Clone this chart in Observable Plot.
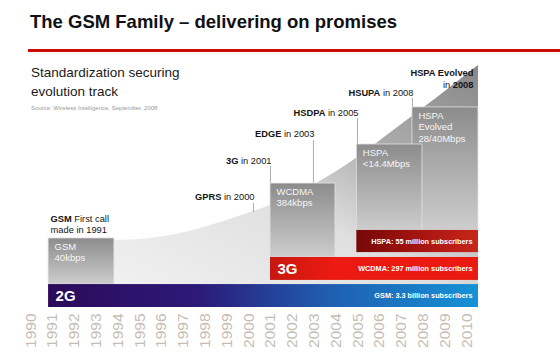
<!DOCTYPE html>
<html><head><meta charset="utf-8">
<script src="https://cdn.jsdelivr.net/npm/d3@7"></script>
<script src="https://cdn.jsdelivr.net/npm/@observablehq/plot@0.6"></script>
<style>
body{margin:0;background:#fff;font-family:"Liberation Sans",Arial,sans-serif;}
#wrap{position:relative;width:560px;height:357px;overflow:hidden;background:#fff;}
#title{position:absolute;left:30px;top:13px;font-size:18.5px;line-height:18.5px;font-weight:bold;color:#111;white-space:nowrap;}
#rule{position:absolute;left:28px;top:49px;width:532px;height:3px;background:#cc0a0a;}
#chart{position:absolute;left:0;top:56px;}
#sub{position:absolute;left:31px;top:63px;font-size:13.5px;line-height:19px;color:#1a1a1a;white-space:nowrap;}
#src{position:absolute;left:31px;top:105px;font-size:6px;line-height:6px;color:#9a9a9a;white-space:nowrap;}
</style></head>
<body>
<div id="wrap">
  <div id="title">The GSM Family – delivering on promises</div>
  <div id="rule"></div>
  <div id="chart"></div>
  <div id="sub">Standardization securing<br>evolution track</div>
  <div id="src">Source: Wireless Intelligence, September, 2008</div>
</div>
<script>
// ---- data ----
const tickYears = [1990,1991,1992,1993,1994,1995,1996,1997,1998,1999,2000,2001,2002,2003,2004,2005,2006,2007,2008,2009,2010];

// subscriber bands (bottom rows)
const bandGen  = ["2G", "3G", ""];
const bandText = ["GSM: 3.3 billion subscribers", "WCDMA: 297 million subscribers", "HSPA: 55 million subscribers"];
const bandFrom = [1990.6, 2000.78, 2004.74];
const bandTo   = [2010.32, 2010.32, 2010.32];
const bandLow  = [0, 11.1, 22.5];
const bandHigh = [9.4, 20.5, 31.6];

// technology / data-rate boxes
const techName = ["GSM\n40kbps", "WCDMA\n384kbps", "HSPA\nEvolved\n28/40Mbps", "HSPA\n<14.4Mbps"];
const techFrom = [1990.6, 2000.78, 2007.29, 2004.74];
const techTo   = [1993.62, 2003.76, 2010.32, 2007.75];
const techLow  = [9.4, 20.5, 31.6, 31.6];
const techHigh = [28.3, 50.8, 82.0, 66.8];

// evolution curve (background wedge)
const curveYear  = [1990.6, 1993.62, 1995.28, 1997.57, 1999.86, 2000.78, 2003.67, 2006.74, 2010.32];
const curveLevel = [27.5, 27.5, 28.3, 32.4, 38.9, 41.8, 54.9, 74.6, 99.2];

// milestones with leader lines
const mileLabel = ["**GPRS** in 2000", "**3G** in 2001", "**EDGE** in 2003", "**HSDPA** in 2005", "**HSUPA** in 2008"];
const mileYear  = [2000.0, 2000.78, 2002.75, 2004.77, 2007.29];
const mileLevel = [45.1, 60.2, 70.9, 79.9, 88.1];
const mileFoot  = [38.9, 50.8, 50.8, 66.8, 82.0];

// free notes
const noteLabel = ["**GSM** First call\nmade in 1991", "**HSPA Evolved**\nin **2008**"];
const noteYear  = [1990.6, 2010.09];
const noteLevel = [34.2, 93.9];

// ---- drawing ----
const strip = s => s.replace(/\*\*/g, "");
const idx = a => a.map((_, i) => i);
const bandFill = ["url(#g2G)", "url(#g3G)", "url(#gHSPA)"];

const svg = Plot.plot({
  width: 560, height: 301,
  marginTop: 7, marginBottom: 50, marginLeft: 35, marginRight: 89,
  x: {domain: [1990, 2010], axis: null},
  y: {domain: [0, 100], axis: null},
  color: {type: "identity"},
  style: {background: "transparent", fontFamily: "'Liberation Sans', Arial, sans-serif", overflow: "visible"},
  marks: [
    Plot.area(idx(curveYear), {x1: i => curveYear[i], y1: () => bandHigh[0], y2: i => curveLevel[i], curve: "monotone-x", fill: "url(#gWedge)"}),
    Plot.ruleX(idx(mileYear), {x: i => mileYear[i], y1: i => mileFoot[i], y2: i => mileLevel[i] - 2.4, stroke: "#a4a4a4", strokeWidth: 0.9}),
    Plot.rect(idx(techName), {x1: i => techFrom[i], x2: i => techTo[i], y1: i => techLow[i], y2: i => techHigh[i], fill: "url(#gBox)", stroke: "#e2e2e2", strokeWidth: 0.8}),
    Plot.text(idx(techName), {x: i => techFrom[i], y: i => techHigh[i], text: i => techName[i], textAnchor: "start", lineAnchor: "top", dx: 6, dy: 3, fill: "#f6f6f6", fontSize: 9.5, lineHeight: 1.22}),
    Plot.rect(idx(bandGen), {x1: i => bandFrom[i], x2: i => bandTo[i], y1: i => bandLow[i], y2: i => bandHigh[i], fill: i => bandFill[i]}),
    Plot.text(idx(bandGen), {x: i => bandFrom[i], y: i => (bandLow[i] + bandHigh[i]) / 2, text: i => bandGen[i], textAnchor: "start", dx: 7, fill: "white", fontSize: 15, fontWeight: "bold"}),
    Plot.text(idx(bandText), {x: i => bandTo[i], y: i => (bandLow[i] + bandHigh[i]) / 2, text: i => bandText[i], textAnchor: "end", dx: -6, fill: "white", fontSize: 7.3, fontWeight: "bold"}),
    Plot.text(idx(mileLabel), {x: i => mileYear[i], y: i => mileLevel[i], text: i => strip(mileLabel[i]), textAnchor: "end", dx: 1, fill: "#151515", fontSize: 9.3}),
    Plot.text([0], {x: i => noteYear[i], y: i => noteLevel[i], text: i => strip(noteLabel[i]), textAnchor: "start", dx: 2, fill: "#151515", fontSize: 9.3, lineHeight: 1.22}),
    Plot.text([1], {x: i => noteYear[i], y: i => noteLevel[i], text: i => strip(noteLabel[i]), textAnchor: "end", dx: 0, fill: "#151515", fontSize: 9.3, lineHeight: 1.22}),
    Plot.text(tickYears, {x: d => d, frameAnchor: "bottom", rotate: -90, textAnchor: "end", dy: 6, text: d => String(d), fill: "#c6beb4", fontSize: 15.5})
  ]
});

// gradients
const defs = d3.select(svg).insert("defs", ":first-child");
function grad(id, stops, x1, y1, x2, y2) {
  const g = defs.append("linearGradient").attr("id", id).attr("x1", x1).attr("y1", y1).attr("x2", x2).attr("y2", y2);
  stops.forEach(([o, c]) => g.append("stop").attr("offset", o).attr("stop-color", c));
}
grad("gWedge", [[0, "#f4f4f4"], [0.45, "#e0e0e0"], [0.7, "#adadad"], [1, "#878787"]], 0, 1, 1, 0);
grad("gBox", [[0, "#8c8c8c"], [1, "#cdcdcd"]], 0, 0, 0, 1);
grad("g2G", [[0, "#2c0a5a"], [0.35, "#2c1a78"], [0.65, "#1f5eb0"], [1, "#1592d6"]], 0, 0, 1, 0);
grad("g3G", [[0, "#c8180f"], [0.3, "#ec1a12"], [1, "#ea1a10"]], 0, 0, 1, 0);
grad("gHSPA", [[0, "#760808"], [0.5, "#a51410"], [1, "#c8261a"]], 0, 0, 1, 0);

// mixed bold / regular runs inside labels
const markup = new Map();
[...mileLabel, ...noteLabel].forEach(s => s.split("\n").forEach(line => markup.set(strip(line), line)));
const leaves = [];
d3.select(svg).selectAll("text, tspan").each(function () { if (!this.children.length) leaves.push(this); });
leaves.forEach(el => {
  const m = markup.get(el.textContent);
  if (!m) return;
  el.textContent = "";
  m.split("**").forEach((part, i) => {
    if (!part) return;
    const t = document.createElementNS("http://www.w3.org/2000/svg", "tspan");
    if (i % 2) t.setAttribute("font-weight", "bold");
    t.textContent = part;
    el.appendChild(t);
  });
});

document.getElementById("chart").appendChild(svg);
</script>
</body></html>
